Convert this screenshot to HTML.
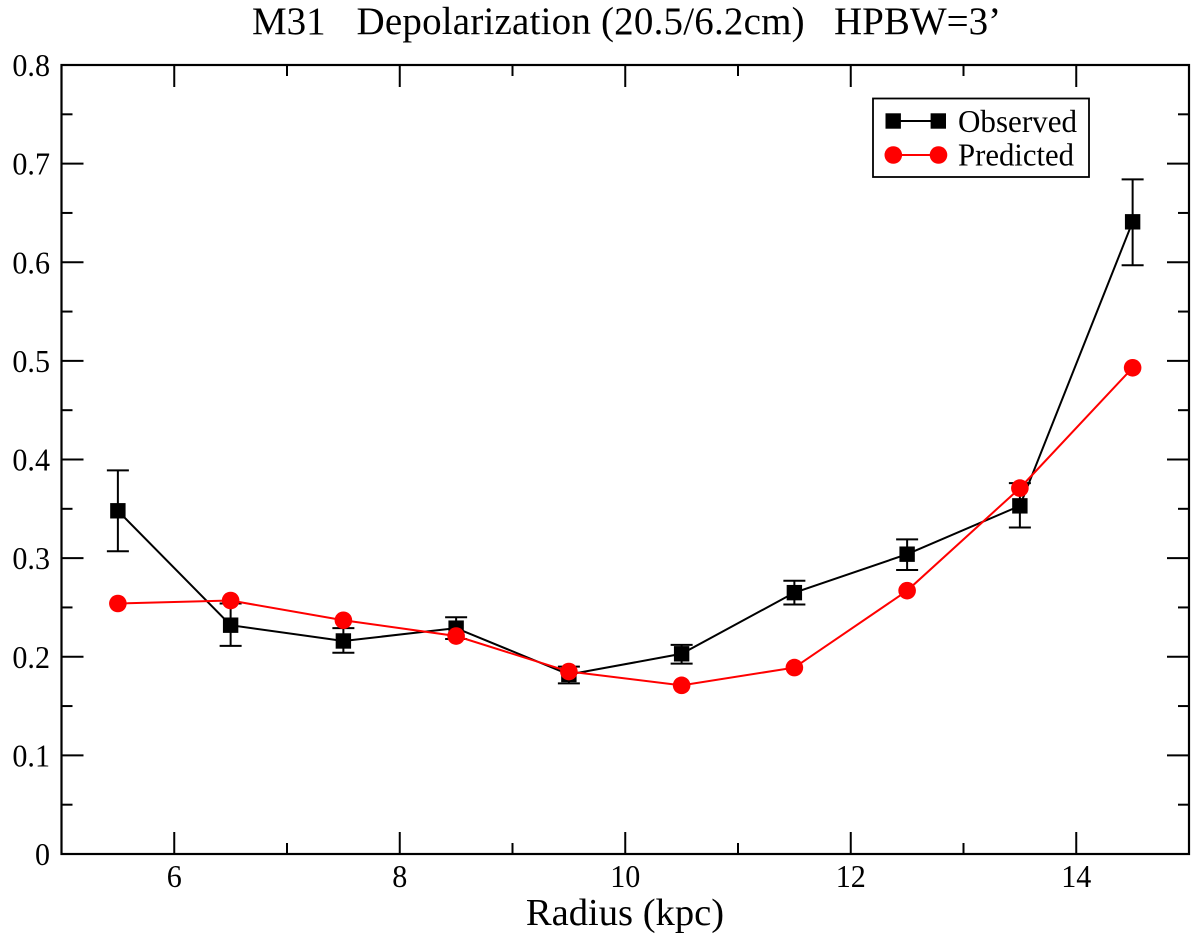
<!DOCTYPE html>
<html lang="en">
<head>
<meta charset="utf-8">
<title>M31 Depolarization</title>
<style>
html,body{margin:0;padding:0;background:#fff;width:1200px;height:939px;overflow:hidden}
svg{display:block}
text{font-family:"Liberation Serif",serif;fill:#000;white-space:pre}
</style>
</head>
<body>
<svg id="chart" xmlns="http://www.w3.org/2000/svg" width="1200" height="939" viewBox="0 0 1200 939">
<rect x="0" y="0" width="1200" height="939" fill="#fff"/>
<text y="34" font-size="39"><tspan x="252">M31</tspan><tspan x="356.5" letter-spacing="0.2">Depolarization (20.5/6.2cm)</tspan><tspan x="834">HPBW=3’</tspan></text>
<text x="625" y="925" font-size="38.6" text-anchor="middle">Radius (kpc)</text>
<g id="ticks"></g>
<g id="series"></g>
<rect x="61.5" y="65" width="1127.5" height="789" fill="none" stroke="#000" stroke-width="2.2"/>
<g>
<rect x="873" y="98.5" width="216" height="78.5" fill="#fff" stroke="#000" stroke-width="1.8"/>
<line x1="893" y1="121" x2="938" y2="121" stroke="#000" stroke-width="2"/>
<rect x="885.5" y="113.3" width="15.4" height="15.4" fill="#000"/>
<rect x="930.6" y="113.3" width="15.4" height="15.4" fill="#000"/>
<text x="958" y="132" font-size="32" textLength="119" lengthAdjust="spacingAndGlyphs">Observed</text>
<line x1="893" y1="155" x2="938" y2="155" stroke="#f00" stroke-width="2"/>
<circle cx="893.3" cy="155" r="8.8" fill="#f00"/>
<circle cx="938.5" cy="155" r="8.8" fill="#f00"/>
<text x="958" y="165.5" font-size="32" textLength="116" lengthAdjust="spacingAndGlyphs">Predicted</text>
</g>
</svg>
<script>
const radii = [5.5, 6.5, 7.5, 8.5, 9.5, 10.5, 11.5, 12.5, 13.5, 14.5];
const observed = [0.348, 0.232, 0.216, 0.229, 0.182, 0.203, 0.265, 0.304, 0.353, 0.641];
const observedUpper = [0.389, 0.254, 0.229, 0.240, 0.190, 0.212, 0.277, 0.319, 0.376, 0.684];
const observedLower = [0.307, 0.211, 0.204, 0.218, 0.173, 0.193, 0.253, 0.288, 0.331, 0.597];
const predicted = [0.254, 0.257, 0.237, 0.221, 0.185, 0.171, 0.189, 0.267, 0.371, 0.493];
const xMajorTicks = [6, 8, 10, 12, 14];
const xMinorTicks = [7, 9, 11, 13];
const yMajorTicks = [0, 0.1, 0.2, 0.3, 0.4, 0.5, 0.6, 0.7, 0.8];
const yMajorLabels = ['0', '0.1', '0.2', '0.3', '0.4', '0.5', '0.6', '0.7', '0.8'];
const yMinorTicks = [0.05, 0.15, 0.25, 0.35, 0.45, 0.55, 0.65, 0.75];

const NS = 'http://www.w3.org/2000/svg';
const xScale = v => 61.5 + (v - 5) * 112.75;
const yScale = v => 854 - v * 986.25;
const ticksG = document.getElementById('ticks');
const seriesG = document.getElementById('series');

function make(tag, parent, props) {
  const el = document.createElementNS(NS, tag);
  for (const k in props) el.setAttribute(k, props[k]);
  parent.appendChild(el);
  return el;
}

function condense(t) {
  t.setAttribute('textLength', (t.getComputedTextLength() * 0.94).toFixed(2));
  t.setAttribute('lengthAdjust', 'spacingAndGlyphs');
}

function drawXTick(v, len, label) {
  const x = xScale(v);
  const bottom = make('line', ticksG, {x1: x, x2: x, y1: 854, y2: 854 - len, stroke: '#000', 'stroke-width': 2});
  
  
  const top = make('line', ticksG, {x1: x, x2: x, y1: 65, y2: 65 + len, stroke: '#000', 'stroke-width': 2});
  
  
  if (label !== null) {
    const t = make('text', ticksG, {x: x, y: 887, 'font-size': 32, 'text-anchor': 'middle'});
    t.textContent = label;
    
    
    condense(t);
  }
}

function drawYTick(v, len, label) {
  const y = yScale(v);
  const left = make('line', ticksG, {x1: 61.5, x2: 61.5 + len, y1: y, y2: y, stroke: '#000', 'stroke-width': 2});
  
  
  const right = make('line', ticksG, {x1: 1189, x2: 1189 - len, y1: y, y2: y, stroke: '#000', 'stroke-width': 2});
  
  
  if (label !== null) {
    const t = make('text', ticksG, {x: 50, y: y + 11, 'font-size': 32, 'text-anchor': 'end'});
    t.textContent = label;
    
    
    condense(t);
  }
}

xMajorTicks.forEach(v => drawXTick(v, 22, String(v)));
xMinorTicks.forEach(v => drawXTick(v, 11, null));
yMajorTicks.forEach((v, i) => drawYTick(v, 22, yMajorLabels[i]));
yMinorTicks.forEach(v => drawYTick(v, 11, null));

radii.forEach((r, i) => {
  const x = xScale(r);
  const stem = make('line', seriesG, {x1: x, x2: x, y1: yScale(observedUpper[i]), y2: yScale(observedLower[i]), stroke: '#000', 'stroke-width': 2});
  
  
  const capU = make('line', seriesG, {x1: x - 11, x2: x + 11, y1: yScale(observedUpper[i]), y2: yScale(observedUpper[i]), stroke: '#000', 'stroke-width': 2});
  
  
  const capL = make('line', seriesG, {x1: x - 11, x2: x + 11, y1: yScale(observedLower[i]), y2: yScale(observedLower[i]), stroke: '#000', 'stroke-width': 2});
  
  
});

const obsLine = make('polyline', seriesG, {points: radii.map((r, i) => xScale(r) + ',' + yScale(observed[i])).join(' '), fill: 'none', stroke: '#000', 'stroke-width': 2});



radii.forEach((r, i) => {
  const m = make('rect', seriesG, {x: xScale(r) - 7.7, y: yScale(observed[i]) - 7.7, width: 15.4, height: 15.4, fill: '#000'});
  
  
});

const predLine = make('polyline', seriesG, {points: radii.map((r, i) => xScale(r) + ',' + yScale(predicted[i])).join(' '), fill: 'none', stroke: '#f00', 'stroke-width': 2});



radii.forEach((r, i) => {
  const c = make('circle', seriesG, {cx: xScale(r), cy: yScale(predicted[i]), r: 8.8, fill: '#f00'});
  
  
});
</script>
</body>
</html>
